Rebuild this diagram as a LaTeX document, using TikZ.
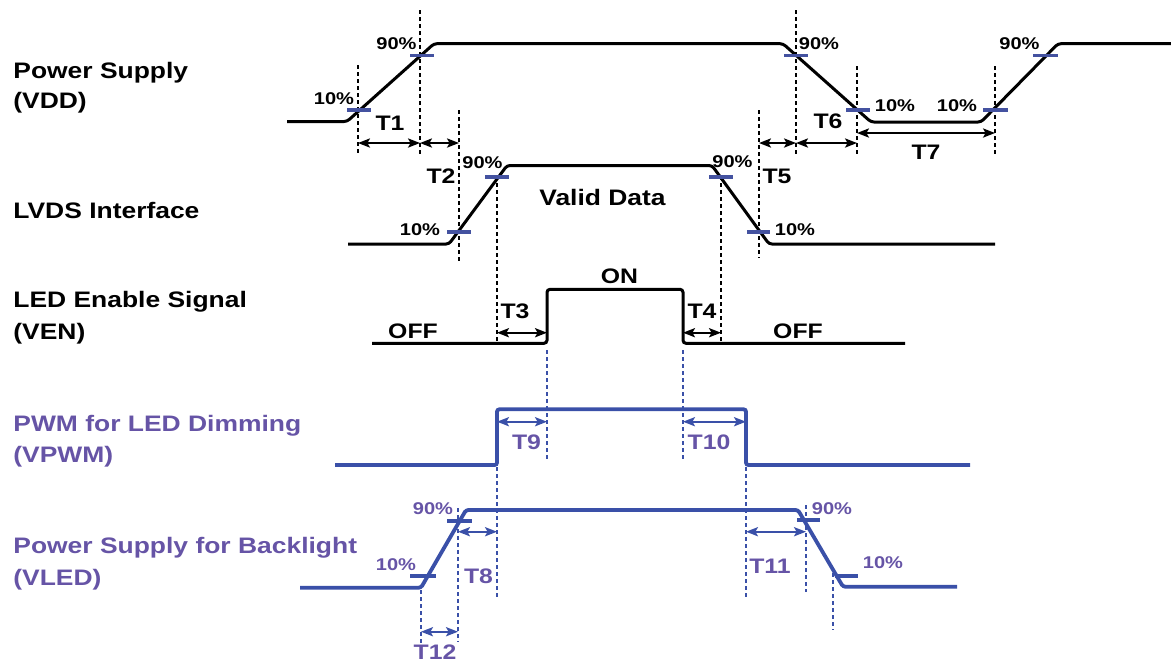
\documentclass[tikz,border=0pt]{standalone}
\usepackage{fontspec}
\setmainfont[FakeStretch=1.18]{Liberation Sans}
\usepackage{tikz}
\usetikzlibrary{arrows.meta,positioning}
\definecolor{lineblue}{RGB}{58,80,168}
\definecolor{tickblue}{RGB}{68,82,160}
\definecolor{textpurple}{RGB}{102,84,166}
\tikzset{wave/.style={
    % The line:
    line width=1.5pt,
    draw=black,
    rounded corners=1.5pt,
    },
    bluewave/.style={
    line width=1.9pt,
    draw=lineblue,
    rounded corners=1.2pt,
    },
    guide/.style={
    % thin dashed helper line
    line width=0.6pt,
    dash pattern=on 2pt off 1.5pt,
    draw=black,
    },
    blueguide/.style={
    line width=0.6pt,
    dash pattern=on 2pt off 1.5pt,
    draw=lineblue,
    },
    level/.style={
    % the 10% / 90% marks
    line width=1.9pt,
    draw=tickblue,
    },
    span/.style={
    {Stealth[length=6pt,width=4.6pt,inset=1.3pt]}-{Stealth[length=6pt,width=4.6pt,inset=1.3pt]},
    line width=0.9pt,
    draw=black,
    },
    bluespan/.style={
    {Stealth[length=6pt,width=4.6pt,inset=1.3pt]}-{Stealth[length=6pt,width=4.6pt,inset=1.3pt]},
    line width=0.9pt,
    draw=lineblue,
    },
    signame/.style={
    % Font
    font=\bfseries\fontsize{11.2}{13}\selectfont,
    anchor=base west,
    inner sep=0pt,
    },
    pct/.style={
    font=\bfseries\fontsize{8.5}{10}\selectfont,
    inner sep=0pt,
    },
    tname/.style={
    font=\bfseries\fontsize{10.5}{12}\selectfont,
    inner sep=0pt,
    },
}

\begin{document}
\begin{tikzpicture}[x=0.5pt,y=-0.5pt]
    \useasboundingbox (0,0) rectangle (1171,661);

    % signal names
    \node (vdd)   [signame] at (13,78) {Power Supply};
    \node (vddb)  [signame,below=15pt of vdd.base west,anchor=base west] {(VDD)};
    \node (lvds)  [signame] at (13,218) {LVDS Interface};
    \node (ven)   [signame] at (13,307) {LED Enable Signal};
    \node (venb)  [signame,below=16pt of ven.base west,anchor=base west] {(VEN)};
    \node (pwm)   [signame,text=textpurple] at (13,431) {PWM for LED Dimming};
    \node (pwmb)  [signame,text=textpurple,below=15.5pt of pwm.base west,anchor=base west] {(VPWM)};
    \node (vled)  [signame,text=textpurple] at (13,553) {Power Supply for Backlight};
    \node (vledb) [signame,text=textpurple,below=16pt of vled.base west,anchor=base west] {(VLED)};

    % dashed helper lines
    \draw[guide] (358,65) -- (358,155);
    \draw[guide] (420,10) -- (420,157);
    \draw[guide] (459,110) -- (459,262);
    \draw[guide] (759,110) -- (759,258);
    \draw[guide] (796,10) -- (796,157);
    \draw[guide] (857,66) -- (857,157);
    \draw[guide] (995,66) -- (995,157);
    \draw[guide] (497,176) -- (497,345);
    \draw[guide] (721,176) -- (721,345);
    \draw[blueguide] (547,350) -- (547,462);
    \draw[blueguide] (683,350) -- (683,462);
    \draw[blueguide] (497,467) -- (497,600);
    \draw[blueguide] (746,467) -- (746,598);
    \draw[blueguide] (421,590) -- (421,647);
    \draw[blueguide] (458,508) -- (458,642);
    \draw[blueguide] (806,505) -- (806,592);
    \draw[blueguide] (833,573) -- (833,630);

    % waveforms
    \draw[wave] (287,121.5) -- (347,121.5) -- (434,43.7) -- (783,43.7) -- (871,122) -- (981,122) -- (1058,43.7) -- (1180,43.7);
    \draw[wave] (348,244) -- (449,244) -- (507,165.5) -- (712,165.5) -- (769,244) -- (995,244);
    \draw[wave] (372,343.3) -- (547,343.3) -- (547,289.3) -- (683,289.3) -- (683,343.3) -- (905,343.3);
    \draw[bluewave] (335,465) -- (497,465) -- (497,409.3) -- (746,409.3) -- (746,465) -- (970,465);
    \draw[bluewave] (300,587.7) -- (421,587.7) -- (466,510) -- (798,510) -- (843,586.7) -- (957,586.7);

    % 10% and 90% marks
    \draw[level] (347,110) -- (371,110);
    \draw[level] (410,55.5) -- (434,55.5);
    \draw[level] (784,55.5) -- (808,55.5);
    \draw[level] (846,110) -- (870,110);
    \draw[level] (983,110) -- (1008,110);
    \draw[level] (1033,55.5) -- (1058,55.5);
    \draw[level] (447,232) -- (471,232);
    \draw[level] (485,176.7) -- (509,176.7);
    \draw[level] (709,176.7) -- (733,176.7);
    \draw[level] (747,231.7) -- (770,231.7);
    \draw[level,draw=lineblue] (410,576) -- (436,576);
    \draw[level,draw=lineblue] (447,520.7) -- (472,520.7);
    \draw[level,draw=lineblue] (797,520) -- (820,520);
    \draw[level,draw=lineblue] (835,575.7) -- (858,575.7);

    % ends of the time spans
    \coordinate (t1l) at (358,143);
    \coordinate (t1r) at (420,143);
    \coordinate (t2r) at (459,143);
    \coordinate (t5l) at (759,143);
    \coordinate (t5r) at (796,143);
    \coordinate (t6r) at (857,143);
    \coordinate (t7l) at (857,133);
    \coordinate (t7r) at (995,133);
    \coordinate (t3l) at (497,332.7);
    \coordinate (t3r) at (547,332.7);
    \coordinate (t4l) at (683,332.7);
    \coordinate (t4r) at (721,332.7);
    \coordinate (t9l) at (497,421.7);
    \coordinate (t9r) at (547,421.7);
    \coordinate (t10l) at (683,421.7);
    \coordinate (t10r) at (746,421.7);
    \coordinate (t8l) at (458,531.7);
    \coordinate (t8r) at (497,531.7);
    \coordinate (t11l) at (746,531.7);
    \coordinate (t11r) at (806,531.7);
    \coordinate (t12l) at (421,631.7);
    \coordinate (t12r) at (458,631.7);

    \draw[span] (t1l) -- (t1r);
    \draw[span] (t1r) -- (t2r);
    \draw[span] (t5l) -- (t5r);
    \draw[span] (t5r) -- (t6r);
    \draw[span] (t7l) -- (t7r);
    \draw[span] (t3l) -- (t3r);
    \draw[span] (t4l) -- (t4r);
    \draw[bluespan] (t9l) -- (t9r);
    \draw[bluespan] (t10l) -- (t10r);
    \draw[bluespan] (t8l) -- (t8r);
    \draw[bluespan] (t11l) -- (t11r);
    \draw[bluespan] (t12l) -- (t12r);

    % percent labels
    \node (p1)  [pct] at (334,98.5) {10\%};
    \node (p2)  [pct] at (396.5,43.5) {90\%};
    \node (p3)  [pct] at (420,230) {10\%};
    \node (p4)  [pct] at (482.5,163) {90\%};
    \node (p5)  [pct] at (732.5,161.5) {90\%};
    \node (p6)  [pct] at (795,230) {10\%};
    \node (p7)  [pct] at (819,43.5) {90\%};
    \node (p8)  [pct] at (895,106) {10\%};
    \node (p9)  [pct] at (957,106) {10\%};
    \node (p10) [pct] at (1019.5,43.5) {90\%};
    \node (p11) [pct,text=textpurple] at (433,509) {90\%};
    \node (p12) [pct,text=textpurple] at (396,565) {10\%};
    \node (p13) [pct,text=textpurple] at (832,509) {90\%};
    \node (p14) [pct,text=textpurple] at (883,563) {10\%};

    % span names and states
    \node (n1)  [tname] at (390,123.5) {T1};
    \node (n2)  [tname] at (441,176.5) {T2};
    \node (n5)  [tname] at (777,176.5) {T5};
    \node (n6)  [tname] at (828,121.5) {T6};
    \node (n7)  [tname] at (926,152.5) {T7};
    \node (n3)  [tname] at (515,311.5) {T3};
    \node (n4)  [tname] at (702,311.5) {T4};
    \node (n9)  [tname,text=textpurple] at (526.5,442.5) {T9};
    \node (n10) [tname,text=textpurple] at (709,442.5) {T10};
    \node (n8)  [tname,text=textpurple] at (478.5,576) {T8};
    \node (n11) [tname,text=textpurple] at (770,566) {T11};
    \node (n12) [tname,text=textpurple] at (435,652) {T12};
    \node (on)   [tname] at (619.5,276) {ON};
    \node (offl) [tname] at (413,331.5) {OFF};
    \node (offr) [tname] at (798,331.5) {OFF};
    \node (data) [tname,font=\bfseries\fontsize{11.2}{13}\selectfont] at (602.5,197.5) {Valid Data};
\end{tikzpicture}
\end{document}
